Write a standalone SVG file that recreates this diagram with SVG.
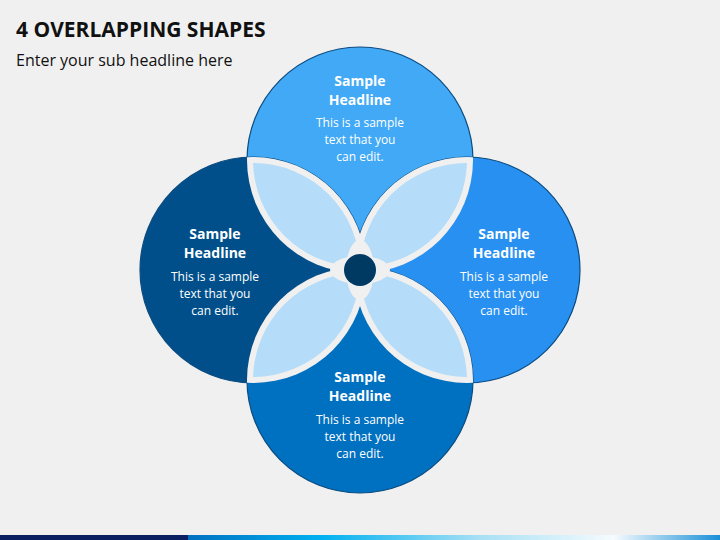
<svg xmlns="http://www.w3.org/2000/svg" width="720" height="540" viewBox="0 0 720 540">
<style>
.t{font-family:"Open Sans","Liberation Sans",sans-serif;fill:#fff;text-anchor:middle}
.h{font-size:14px;font-weight:bold}
.b{font-size:12px}
.ring{stroke:#0d4c80;stroke-width:1.2}
.gap{fill:#f0f0f0}
.pet{fill:#b5dcf8}
</style>
<defs>
<clipPath id="cT"><circle cx="360" cy="160" r="113"/></clipPath>
<clipPath id="cL"><circle cx="253" cy="270" r="113"/></clipPath>
<clipPath id="cR"><circle cx="467" cy="270" r="113"/></clipPath>
<clipPath id="cB"><circle cx="360" cy="380" r="113"/></clipPath>
<clipPath id="sT"><circle cx="360" cy="160" r="107"/></clipPath>
<clipPath id="sL"><circle cx="253" cy="270" r="107"/></clipPath>
<clipPath id="sR"><circle cx="467" cy="270" r="107"/></clipPath>
<clipPath id="sB"><circle cx="360" cy="380" r="107"/></clipPath>
<linearGradient id="bar" x1="0" x2="1" y1="0" y2="0">
<stop offset="0" stop-color="#0070c0"/><stop offset="0.25" stop-color="#00b0f0"/><stop offset="0.55" stop-color="#a8e0f5"/><stop offset="0.8" stop-color="#f5fbfe"/><stop offset="1" stop-color="#1a90d8"/>
</linearGradient>
</defs>
<rect width="720" height="540" fill="#f0f0f0"/>
<text x="16" y="37" style="font-family:'Open Sans','Liberation Sans',sans-serif;font-size:21px;font-weight:bold;fill:#111">4 OVERLAPPING SHAPES</text>
<text x="16" y="66" style="font-family:'Open Sans','Liberation Sans',sans-serif;font-size:16px;fill:#111">Enter your sub headline here</text>
<g id="node-top"><circle class="ring" cx="360" cy="160" r="113" fill="#41a9f5"/></g>
<g id="node-left"><circle class="ring" cx="253" cy="270" r="113" fill="#004f8a"/></g>
<g id="node-right"><circle class="ring" cx="467" cy="270" r="113" fill="#2890f0"/></g>
<g id="node-bottom"><circle class="ring" cx="360" cy="380" r="113" fill="#0070c0"/></g>
<g id="connectors">
<circle class="gap" cx="360" cy="160" r="113" clip-path="url(#cL)"/>
<circle class="gap" cx="360" cy="160" r="113" clip-path="url(#cR)"/>
<circle class="gap" cx="360" cy="380" r="113" clip-path="url(#cL)"/>
<circle class="gap" cx="360" cy="380" r="113" clip-path="url(#cR)"/>
<g clip-path="url(#sL)"><circle class="pet" cx="360" cy="160" r="107"/></g>
<g clip-path="url(#sR)"><circle class="pet" cx="360" cy="160" r="107"/></g>
<g clip-path="url(#sL)"><circle class="pet" cx="360" cy="380" r="107"/></g>
<g clip-path="url(#sR)"><circle class="pet" cx="360" cy="380" r="107"/></g>
<ellipse class="gap" cx="360" cy="270" rx="14" ry="30"/>
<ellipse class="gap" cx="360" cy="270" rx="30" ry="14"/>
<circle cx="360" cy="270" r="16" fill="#003a63"/>
</g>
<g class="t">
<text class="h" x="360" y="86">Sample</text><text class="h" x="360" y="105">Headline</text>
<text class="b" x="360" y="127">This is a sample</text><text class="b" x="360" y="144">text that you</text><text class="b" x="360" y="161">can edit.</text>
<text class="h" x="215" y="239">Sample</text><text class="h" x="215" y="258">Headline</text>
<text class="b" x="215" y="281">This is a sample</text><text class="b" x="215" y="298">text that you</text><text class="b" x="215" y="315">can edit.</text>
<text class="h" x="504" y="239">Sample</text><text class="h" x="504" y="258">Headline</text>
<text class="b" x="504" y="281">This is a sample</text><text class="b" x="504" y="298">text that you</text><text class="b" x="504" y="315">can edit.</text>
<text class="h" x="360" y="382">Sample</text><text class="h" x="360" y="401">Headline</text>
<text class="b" x="360" y="424">This is a sample</text><text class="b" x="360" y="441">text that you</text><text class="b" x="360" y="458">can edit.</text>
</g>
<rect x="0" y="535" width="188" height="5" fill="#0a2060"/>
<rect x="188" y="535" width="532" height="5" fill="url(#bar)"/>
</svg>
